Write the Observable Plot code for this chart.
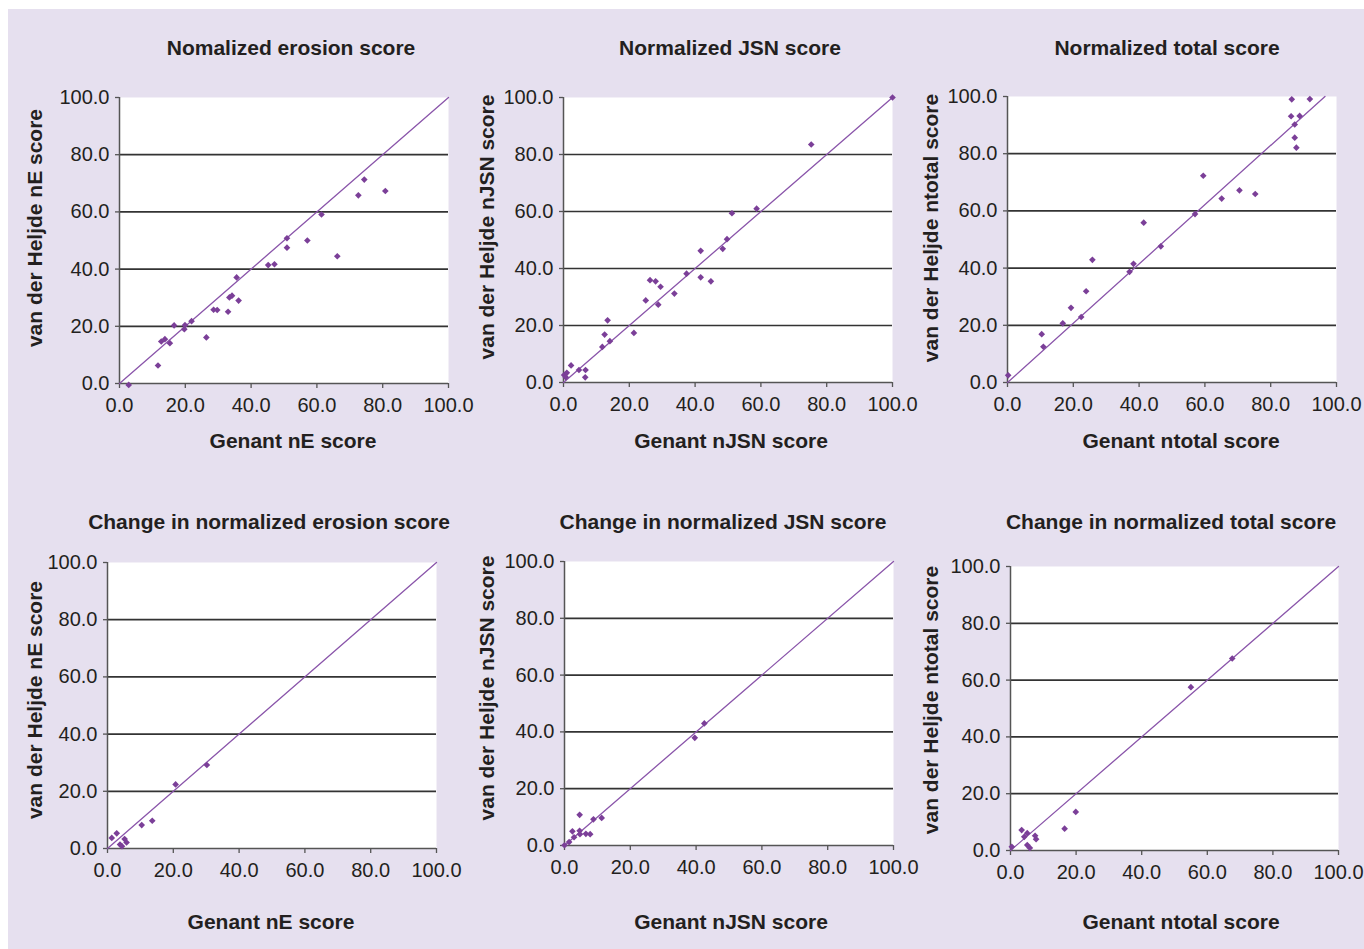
<!DOCTYPE html>
<html><head><meta charset="utf-8">
<script src="https://cdn.jsdelivr.net/npm/d3@7"></script>
<script src="https://cdn.jsdelivr.net/npm/@observablehq/plot@0.6"></script>
<style>
html,body{margin:0;padding:0;background:#fff;width:1364px;height:949px;overflow:hidden}
#bg{position:absolute;left:8px;top:9px;width:1356px;height:940px;background:#e6e0ef}
.t{position:absolute;font-family:"Liberation Sans",Arial,sans-serif;font-weight:bold;font-size:21px;color:#231f20;white-space:nowrap;transform:translate(-50%,-50%)}
.t.v{transform:translate(-50%,-50%) rotate(-90deg)}
svg{position:absolute}
</style></head><body><div id="bg"></div><script>
// ---- tick values / labels ----
const ticks = [0, 20, 40, 60, 80, 100];
const tickLabels = ["0.0", "20.0", "40.0", "60.0", "80.0", "100.0"];
const gridValues = [20, 40, 60, 80];

// ---- titles / axis labels ----
const titles = ["Nomalized erosion score", "Normalized JSN score", "Normalized total score",
  "Change in normalized erosion score", "Change in normalized JSN score", "Change in normalized total score"];
const xLabels = ["Genant nE score", "Genant nJSN score", "Genant ntotal score",
  "Genant nE score", "Genant nJSN score", "Genant ntotal score"];
const yLabels = ["van der Heljde nE score", "van der Heljde nJSN score", "van der Heljde ntotal score",
  "van der Heljde nE score", "van der Heljde nJSN score", "van der Heljde ntotal score"];

// ---- series: Genant (x) vs van der Heijde (y) ----
const erosionX = [2.8, 11.7, 12.7, 13.8, 15.3, 16.6, 19.7, 19.9, 21.9, 26.4, 28.6, 29.7, 33.0, 33.4, 34.2, 36.2, 35.6, 45.2, 47.1, 50.9, 50.9, 57.1, 61.4, 66.2, 72.6, 74.4, 80.8];
const erosionY = [-0.5, 6.3, 14.7, 15.5, 14.1, 20.3, 19.0, 20.4, 21.8, 16.1, 25.8, 25.7, 25.1, 30.1, 30.7, 29.0, 37.1, 41.4, 41.7, 50.8, 47.5, 50.0, 59.1, 44.5, 65.8, 71.3, 67.3];

const jsnX = [0.2, 1.0, 0.7, 2.3, 4.7, 6.7, 6.6, 11.8, 12.5, 13.4, 14.1, 21.4, 25.0, 26.3, 28.0, 28.8, 29.5, 33.7, 37.4, 41.7, 41.7, 44.8, 48.4, 49.7, 51.2, 58.7, 75.3, 100];
const jsnY = [2.6, 3.4, 1.8, 6.0, 4.4, 4.4, 1.8, 12.5, 16.8, 21.8, 14.5, 17.4, 28.8, 35.9, 35.5, 27.3, 33.6, 31.2, 38.2, 46.2, 36.9, 35.5, 46.9, 50.3, 59.4, 61.0, 83.5, 100];

const totalX = [0.2, 10.4, 10.9, 16.8, 19.3, 22.4, 23.9, 25.8, 37.1, 38.3, 41.4, 46.6, 57.0, 59.5, 65.1, 70.5, 75.3, 86.2, 86.4, 87.3, 87.3, 87.8, 88.8, 91.9];
const totalY = [2.5, 16.9, 12.5, 20.7, 26.1, 22.9, 31.9, 42.9, 38.7, 41.5, 55.9, 47.6, 58.9, 72.3, 64.3, 67.2, 65.9, 93.1, 99.0, 90.2, 85.6, 82.1, 93.2, 99.1];

const dErosionX = [1.3, 2.8, 3.8, 4.4, 5.2, 5.8, 10.4, 13.6, 20.7, 30.2];
const dErosionY = [3.7, 5.3, 1.4, 0.8, 3.3, 2.1, 8.2, 9.7, 22.4, 29.2];

const dJsnX = [0, 1.4, 2.4, 2.9, 4.6, 4.6, 4.7, 6.5, 7.8, 8.8, 11.3, 39.6, 42.5];
const dJsnY = [0.1, 1.2, 5.0, 2.9, 10.8, 5.2, 4.0, 4.1, 4.0, 9.2, 9.7, 37.9, 43.0];

const dTotalX = [0.4, 3.4, 4.2, 5.1, 5.1, 5.9, 7.5, 7.8, 16.5, 19.9, 55.0, 67.6];
const dTotalY = [1.3, 7.2, 4.8, 6.1, 1.9, 0.9, 5.2, 4.0, 7.7, 13.6, 57.5, 67.6];

// ---- reference lines ----
const identityX = [0, 100];
const identityY = [0, 100];
const totalLineX = [0, 96.5];
const totalLineY = [0, 100];

// ---- layout (plot-area pixel boxes) ----
const panels = [
  {xs: erosionX, ys: erosionY, lx: identityX, ly: identityY, x0: 119, x1: 448, y0: 383, y1: 97, tt: [291, 48], xl: [293, 441], yl: [35, 228]},
  {xs: jsnX, ys: jsnY, lx: identityX, ly: identityY, x0: 563, x1: 892, y0: 382, y1: 97, tt: [730, 48], xl: [731, 441], yl: [487, 227]},
  {xs: totalX, ys: totalY, lx: totalLineX, ly: totalLineY, x0: 1007, x1: 1336, y0: 382, y1: 96, tt: [1167, 48], xl: [1181, 441], yl: [931, 228]},
  {xs: dErosionX, ys: dErosionY, lx: identityX, ly: identityY, x0: 107, x1: 436, y0: 848, y1: 562, tt: [269, 522], xl: [271, 922], yl: [35, 700]},
  {xs: dJsnX, ys: dJsnY, lx: identityX, ly: identityY, x0: 564, x1: 893, y0: 845, y1: 561, tt: [723, 522], xl: [731, 922], yl: [487, 688]},
  {xs: dTotalX, ys: dTotalY, lx: identityX, ly: identityY, x0: 1010, x1: 1338, y0: 850, y1: 566, tt: [1171, 522], xl: [1181, 922], yl: [931, 700]}
];

const ML = 70, MR = 34, MT = 10, MB = 40;
const fmt = (d) => tickLabels[ticks.indexOf(d)];

function label(text, [cx, cy], vertical) {
  const d = document.createElement("div");
  d.className = "t" + (vertical ? " v" : "");
  d.textContent = text;
  d.style.left = cx + "px";
  d.style.top = cy + "px";
  document.body.appendChild(d);
}

panels.forEach((p, i) => {
  const pts = p.xs.map((x, k) => ({x, y: p.ys[k]}));
  const line = p.lx.map((x, k) => ({x, y: p.ly[k]}));
  const w = (p.x1 - p.x0) + ML + MR;
  const h = (p.y0 - p.y1) + MT + MB;
  const svg = Plot.plot({
    width: w, height: h,
    marginLeft: ML, marginRight: MR, marginTop: MT, marginBottom: MB,
    x: {domain: [0, 100], label: null},
    y: {domain: [0, 100], label: null},
    style: {background: "transparent", fontFamily: "'Liberation Sans', Arial, sans-serif", fontSize: "20px", color: "#231f20", overflow: "visible"},
    marks: [
      Plot.frame({fill: "white", stroke: "none"}),
      Plot.ruleY(gridValues, {stroke: "#333", strokeWidth: 1.7}),
      Plot.ruleX([0], {stroke: "#555", strokeWidth: 1.5}),
      Plot.ruleY([0], {stroke: "#555", strokeWidth: 1.5}),
      Plot.axisX({ticks, tickFormat: fmt, tickSize: 5, tickPadding: 9, fontSize: 20, stroke: "#555", strokeWidth: 1.3, fill: "#231f20", label: null}),
      Plot.axisY({ticks, tickFormat: fmt, tickSize: 4, tickPadding: 6, fontSize: 20, stroke: "#555", strokeWidth: 1.3, fill: "#231f20", label: null}),
      Plot.line(line, {x: "x", y: "y", stroke: "#8a55aa", strokeWidth: 1.3}),
      Plot.dot(pts, {x: "x", y: "y", symbol: "diamond2", r: 3, fill: "#7b3f98", stroke: "none"})
    ]
  });
  svg.style.left = (p.x0 - ML) + "px";
  svg.style.top = (p.y1 - MT) + "px";
  document.body.appendChild(svg);
  label(titles[i], p.tt, false);
  label(xLabels[i], p.xl, false);
  label(yLabels[i], p.yl, true);
});
</script></body></html>
